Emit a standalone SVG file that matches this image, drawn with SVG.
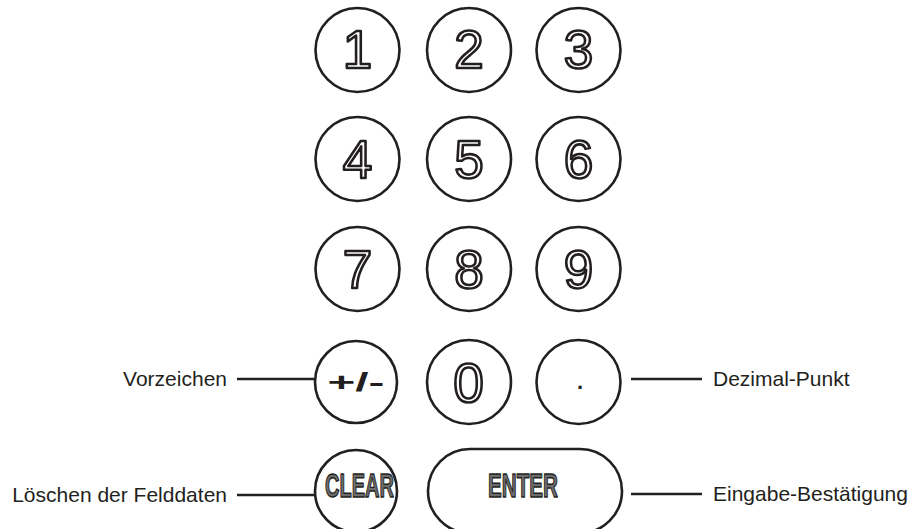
<svg xmlns="http://www.w3.org/2000/svg" width="915" height="529" viewBox="0 0 915 529">
<style>
.key{fill:#fff;stroke:#231f20;stroke-width:2.6}
.dig{font-family:"Liberation Sans",Arial,sans-serif;font-size:53px;fill:#fff;stroke:#231f20;stroke-width:2.6;stroke-linejoin:round;text-anchor:middle}
.bold{font-family:"Liberation Sans",Arial,sans-serif;font-weight:bold;font-size:34px;fill:#6d6d6d;stroke:#231f20;stroke-width:1.4;stroke-linejoin:round;text-anchor:middle}
.lbl{font-family:"Liberation Sans",Arial,sans-serif;font-size:21px;fill:#231f20}
.con{stroke:#231f20;stroke-width:2.6;fill:none}
</style>
<rect width="915" height="529" fill="#fff"/>
<g id="key-1"><circle class="key" cx="357.5" cy="50" r="42"/><text class="dig" x="357.5" y="68">1</text></g>
<g id="key-2"><circle class="key" cx="469" cy="50" r="42"/><text class="dig" x="469" y="68">2</text></g>
<g id="key-3"><circle class="key" cx="578.5" cy="50" r="42"/><text class="dig" x="578.5" y="68">3</text></g>
<g id="key-4"><circle class="key" cx="357.5" cy="159" r="42"/><text class="dig" x="357.5" y="178">4</text></g>
<g id="key-5"><circle class="key" cx="469" cy="159" r="42"/><text class="dig" x="469" y="178">5</text></g>
<g id="key-6"><circle class="key" cx="578.5" cy="159" r="42"/><text class="dig" x="578.5" y="178">6</text></g>
<g id="key-7"><circle class="key" cx="357.5" cy="269" r="42"/><text class="dig" x="357.5" y="288">7</text></g>
<g id="key-8"><circle class="key" cx="469" cy="269" r="42"/><text class="dig" x="469" y="288">8</text></g>
<g id="key-9"><circle class="key" cx="578.5" cy="269" r="42"/><text class="dig" x="578.5" y="288">9</text></g>
<g id="key-sign"><circle class="key" cx="356" cy="382" r="41"/><text x="356" y="391" style="font-family:'Liberation Sans',Arial,sans-serif;font-weight:bold;font-size:26px;fill:#231f20;text-anchor:middle" textLength="57" lengthAdjust="spacingAndGlyphs">+/-</text></g>
<g id="key-0"><circle class="key" cx="469" cy="382" r="42"/><text class="dig" x="468.5" y="402" style="font-size:55px">0</text></g>
<g id="key-dot"><circle class="key" cx="578.5" cy="382" r="42"/><text x="580" y="389" style="font-family:'Liberation Sans',Arial,sans-serif;font-weight:bold;font-size:22px;fill:#231f20;text-anchor:middle">.</text></g>
<g id="key-clear"><circle class="key" cx="356" cy="491" r="41"/><text class="bold" x="359.5" y="497" textLength="69" lengthAdjust="spacingAndGlyphs">CLEAR</text></g>
<g id="key-enter"><rect class="key" x="428" y="449" width="194" height="84" rx="42" ry="42"/><text class="bold" x="523" y="497" textLength="70" lengthAdjust="spacingAndGlyphs">ENTER</text></g>
<g id="connectors">
<line class="con" x1="237" y1="379" x2="314" y2="379"/>
<line class="con" x1="237" y1="495" x2="314" y2="495"/>
<line class="con" x1="631" y1="379" x2="702" y2="379"/>
<line class="con" x1="631" y1="494" x2="702" y2="494"/>
</g>
<g id="labels">
<text class="lbl" x="227" y="386" text-anchor="end">Vorzeichen</text>
<text class="lbl" x="227" y="502" text-anchor="end">Löschen der Felddaten</text>
<text class="lbl" x="713" y="386">Dezimal-Punkt</text>
<text class="lbl" x="713" y="501">Eingabe-Bestätigung</text>
</g>
</svg>
